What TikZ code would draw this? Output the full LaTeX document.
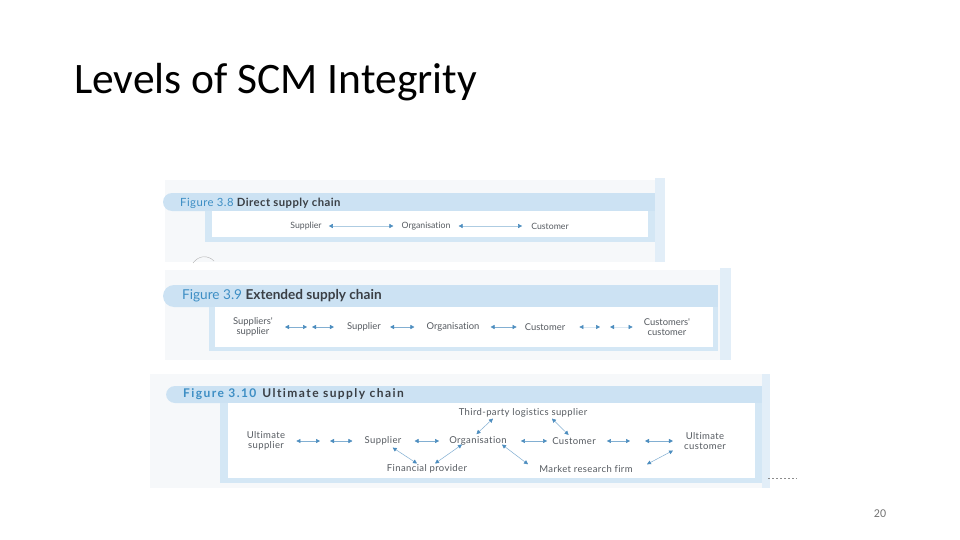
\documentclass[tikz,border=0pt]{standalone}
\usepackage{fontspec}
\setmainfont{Carlito}
\newfontfamily\figfont[Ligatures=NoCommon]{Lato}
\newfontfamily\figfontwide[Ligatures=NoCommon,LetterSpace=4]{Lato}
\newfontfamily\figfontheadwide[Ligatures=NoCommon,LetterSpace=12]{Lato}
\usetikzlibrary{arrows.meta,calc,positioning}
\definecolor{barblue}{HTML}{CCE2F3}
\definecolor{frameblue}{HTML}{D4E7F5}
\definecolor{stripblue}{HTML}{E2EEF8}
\definecolor{scangray}{HTML}{F6F8FA}
\definecolor{figblue}{HTML}{3D8EC4}
\definecolor{arrowblue}{HTML}{4C8DBF}
\definecolor{labelgray}{HTML}{555A60}
\definecolor{headgray}{HTML}{3A3F45}

\begin{document}
\begin{tikzpicture}[x=1pt,y=-1pt,
  >={Triangle[length=4pt,width=4pt,color=arrowblue]},
  lbl/.style={text=labelgray,inner sep=1pt,align=center},
  lblA/.style={lbl,font=\figfont\fontsize{8.7}{9.5}\selectfont},
  lblB/.style={lbl,font=\figfont\fontsize{9.4}{10}\selectfont},
  lblC/.style={lbl,font=\figfontwide\fontsize{9.5}{9.5}\selectfont},
  link/.style={<->,draw=arrowblue!70,line width=0.5pt},
  faint/.style={link,draw=arrowblue!20},
  figtitle/.style={anchor=west,inner sep=0pt,text=headgray}]
  \useasboundingbox (0,0) rectangle (960,540);

  % slide title and page number
  \node[anchor=west,inner sep=0pt,font=\fontsize{43.5}{48}\selectfont] (title) at (74,82) {Levels of SCM Integrity};
  \node[inner sep=0pt,font=\fontsize{12}{14}\selectfont,text=black!55] (page) at (880,514) {20};

  % scanned page background
  \fill[scangray] (165,180) rectangle (655,262);
  \fill[stripblue] (655,178) rectangle (665,262);
  \fill[scangray] (165,270) rectangle (720,360);
  \fill[stripblue] (720,268) rectangle (731,360);
  \fill[scangray] (150,374) rectangle (765,488);
  \fill[stripblue] (762,374) rectangle (770,488);
  \draw[black!30,line width=0.4pt] (193,263) .. controls (199,255) and (208,255) .. (214,261);
  \draw[black!45,dash pattern=on 2pt off 2pt,line width=0.5pt] (768,478) -- (797,478);

  % Figure 3.8
  \fill[barblue,rounded corners=9pt] (163,193) rectangle (300,211);
  \fill[barblue] (290,193) rectangle (655,211);
  \fill[frameblue] (205,211) rectangle (655,242);
  \fill[white] (212,211) rectangle (648,237);
  \node[figtitle,font=\figfontwide\fontsize{11.3}{12}\selectfont] (fig1) at (180,203)
    {\textcolor{figblue}{Figure 3.8} \textbf{Direct supply chain}};
  \node[lblA] (sup1) at (306,226) {Supplier};
  \node[lblA] (org1) at (426,226) {Organisation};
  \node[lblA] (cus1) at (550,226) {Customer};
  \draw[link,draw=arrowblue!45,shorten <=6pt,shorten >=7pt] (sup1) -- (org1);
  \draw[link,draw=arrowblue!45,shorten <=7pt,shorten >=8pt] (org1) -- (cus1);

  % Figure 3.9
  \fill[barblue,rounded corners=11pt] (163,285) rectangle (300,307);
  \fill[barblue] (290,285) rectangle (718,307);
  \fill[frameblue] (209,307) rectangle (718,351);
  \fill[white] (215,307) rectangle (713,347);
  \node[figtitle,font=\figfont\fontsize{13.6}{14}\selectfont] (fig2) at (182,296)
    {\textcolor{figblue}{Figure 3.9} \textbf{Extended supply chain}};
  \node[lblB] (ss2) at (253,327) {Suppliers'\\supplier};
  \coordinate (gap2a) at (309.5,327);
  \node[lblB] (sup2) at (364,327) {Supplier};
  \node[lblB] (org2) at (453,327) {Organisation};
  \node[lblB] (cus2) at (545,327) {Customer};
  \coordinate (gap2b) at (605,327);
  \node[lblB] (cc2) at (667,327) {Customers'\\customer};
  \draw[link,shorten <=11pt,shorten >=2.5pt] (ss2) -- (gap2a);
  \draw[link,shorten <=2.5pt,shorten >=12pt] (gap2a) -- (sup2);
  \draw[link,shorten <=8pt,shorten >=11pt] (sup2) -- (org2);
  \draw[link,shorten <=10pt,shorten >=7pt] (org2) -- (cus2);
  \draw[faint,shorten <=13pt,shorten >=5pt] (cus2) -- (gap2b);
  \draw[faint,shorten <=5pt,shorten >=10pt] (gap2b) -- (cc2);

  % Figure 3.10
  \fill[barblue,rounded corners=9pt] (166,386) rectangle (300,403);
  \fill[barblue] (290,386) rectangle (762,403);
  \fill[frameblue] (220,403) rectangle (762,483);
  \fill[white] (228,403) rectangle (755,478);
  \node[figtitle,font=\figfontheadwide\fontsize{12}{12}\selectfont] (fig3) at (183,394.5)
    {\textcolor{figblue}{\textbf{Figure 3.10}} \textbf{Ultimate supply chain}};
  \node[lblC] (us3) at (266,441) {Ultimate\\supplier};
  \coordinate (gap3a) at (325,441);
  \node[lblC] (sup3) at (383,441) {Supplier};
  \node[lblC] (org3) at (478,441) {Organisation};
  \node[lblC] (cus3) at (574,441) {Customer};
  \coordinate (gap3b) at (638,441);
  \node[lblC] (uc3) at (705,441) {Ultimate\\customer};
  \node[lblC] (tpl3) at (523,413) {Third-party logistics supplier};
  \node[lblC] (fin3) at (427,469) {Financial provider};
  \node[lblC] (mrf3) at (586,469) {Market research firm};
  \draw[link,shorten <=10pt,shorten >=5pt] (us3) -- (gap3a);
  \draw[link,shorten <=5pt,shorten >=11pt] (gap3a) -- (sup3);
  \draw[link,shorten <=12pt,shorten >=9pt] (sup3) -- (org3);
  \draw[link,shorten <=13pt,shorten >=4pt] (org3) -- (cus3);
  \draw[link,shorten <=10pt,shorten >=8pt] (cus3) -- (gap3b);
  \draw[link,shorten <=7pt,shorten >=10pt] (gap3b) -- (uc3);
  \draw[link,shorten <=2pt] ([xshift=-3pt]org3.north) -- ([xshift=-30pt]tpl3.south);
  \draw[link,shorten >=2pt] ([xshift=29pt]tpl3.south) -- ([xshift=-4pt]cus3.north);
  \draw[link,shorten <=2pt] ([xshift=8pt]sup3.south) -- ([xshift=-10pt]fin3.north);
  \draw[link] ([xshift=8pt]fin3.north) -- ([xshift=-16pt,yshift=2pt]org3.south);
  \draw[link] ([xshift=24pt,yshift=2pt]org3.south) -- ([xshift=-58pt]mrf3.north);
  \draw[link] ([xshift=61pt]mrf3.north) -- ([xshift=-32pt]uc3.south);
\end{tikzpicture}
\end{document}
